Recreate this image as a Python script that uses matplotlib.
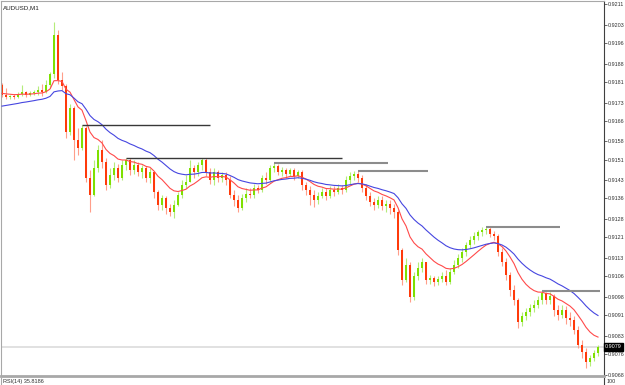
import numpy as np
import matplotlib.pyplot as plt
import matplotlib.transforms as mtransforms

# AUDUSD M1 - precios (150 velas)
first_open = 0.91798
closes = np.array([
    0.91759, 0.91752, 0.91755, 0.91752, 0.91763, 0.91771, 0.91759, 0.91767, 0.91771, 0.91779,
    0.91771, 0.91798, 0.91840, 0.91991, 0.91817, 0.91794, 0.91616, 0.91709, 0.91586, 0.91555,
    0.91632, 0.91439, 0.91373, 0.91478, 0.91547, 0.91500, 0.91412, 0.91450, 0.91478, 0.91439,
    0.91489, 0.91508, 0.91470, 0.91489, 0.91462, 0.91478, 0.91439, 0.91462, 0.91385, 0.91335,
    0.91362, 0.91323, 0.91308, 0.91335, 0.91373, 0.91412, 0.91423, 0.91478, 0.91462, 0.91489,
    0.91508, 0.91462, 0.91431, 0.91462, 0.91439, 0.91450, 0.91431, 0.91373, 0.91354, 0.91323,
    0.91362, 0.91377, 0.91373, 0.91400, 0.91393, 0.91439, 0.91431, 0.91478, 0.91485, 0.91462,
    0.91470, 0.91454, 0.91470, 0.91446, 0.91462, 0.91412, 0.91393, 0.91373, 0.91354, 0.91369,
    0.91385, 0.91369, 0.91393, 0.91385, 0.91400, 0.91393, 0.91431, 0.91446, 0.91454, 0.91439,
    0.91400, 0.91369, 0.91346, 0.91335, 0.91354, 0.91331, 0.91339, 0.91323, 0.91308, 0.91161,
    0.91045, 0.91103, 0.90979, 0.91061, 0.91092, 0.91115, 0.91045, 0.91053, 0.91038, 0.91049,
    0.91061, 0.91038, 0.91076, 0.91103, 0.91130, 0.91153, 0.91180, 0.91200, 0.91215, 0.91230,
    0.91238, 0.91242, 0.91223, 0.91215, 0.91153, 0.91115, 0.91065, 0.91007, 0.90968, 0.90883,
    0.90906, 0.90922, 0.90937, 0.90949, 0.90968, 0.90995, 0.90968, 0.90983, 0.90929, 0.90910,
    0.90929, 0.90899, 0.90891, 0.90852, 0.90794, 0.90767, 0.90728, 0.90744, 0.90763, 0.90787])

highs = np.array([
    0.91806, 0.91786, 0.91759, 0.91763, 0.91771, 0.91798, 0.91775, 0.91775, 0.91779, 0.91794,
    0.91802, 0.91817, 0.91848, 0.92041, 0.92010, 0.91848, 0.91802, 0.91725, 0.91717, 0.91632,
    0.91643, 0.91640, 0.91470, 0.91508, 0.91566, 0.91586, 0.91516, 0.91478, 0.91500, 0.91493,
    0.91508, 0.91516, 0.91516, 0.91508, 0.91500, 0.91489, 0.91485, 0.91478, 0.91462, 0.91393,
    0.91373, 0.91369, 0.91339, 0.91354, 0.91385, 0.91431, 0.91450, 0.91508, 0.91489, 0.91500,
    0.91516, 0.91516, 0.91478, 0.91478, 0.91470, 0.91462, 0.91462, 0.91446, 0.91393, 0.91373,
    0.91377, 0.91400, 0.91400, 0.91416, 0.91412, 0.91450, 0.91462, 0.91489, 0.91497, 0.91493,
    0.91481, 0.91478, 0.91478, 0.91478, 0.91470, 0.91470, 0.91423, 0.91408, 0.91393, 0.91385,
    0.91400, 0.91400, 0.91408, 0.91408, 0.91416, 0.91412, 0.91446, 0.91462, 0.91466, 0.91466,
    0.91450, 0.91416, 0.91385, 0.91362, 0.91369, 0.91369, 0.91354, 0.91354, 0.91339, 0.91315,
    0.91169, 0.91130, 0.91115, 0.91076, 0.91115, 0.91130, 0.91115, 0.91065, 0.91061, 0.91061,
    0.91076, 0.91084, 0.91092, 0.91122, 0.91146, 0.91169, 0.91192, 0.91215, 0.91230, 0.91238,
    0.91249, 0.91249, 0.91249, 0.91234, 0.91223, 0.91169, 0.91130, 0.91076, 0.91026, 0.90975,
    0.90922, 0.90937, 0.90953, 0.90968, 0.90983, 0.91003, 0.91000, 0.90999, 0.90991, 0.90949,
    0.90949, 0.90945, 0.90922, 0.90906, 0.90868, 0.90814, 0.90783, 0.90756, 0.90775, 0.90794])

lows = np.array([
    0.91752, 0.91744, 0.91744, 0.91744, 0.91748, 0.91755, 0.91752, 0.91755, 0.91759, 0.91759,
    0.91755, 0.91767, 0.91786, 0.91825, 0.91802, 0.91779, 0.91593, 0.91605, 0.91508, 0.91528,
    0.91547, 0.91423, 0.91308, 0.91369, 0.91462, 0.91478, 0.91393, 0.91400, 0.91431, 0.91423,
    0.91431, 0.91470, 0.91450, 0.91454, 0.91446, 0.91439, 0.91423, 0.91420, 0.91362, 0.91315,
    0.91315, 0.91300, 0.91292, 0.91285, 0.91331, 0.91362, 0.91400, 0.91423, 0.91439, 0.91446,
    0.91470, 0.91446, 0.91416, 0.91412, 0.91423, 0.91423, 0.91412, 0.91362, 0.91331, 0.91308,
    0.91315, 0.91346, 0.91362, 0.91362, 0.91381, 0.91385, 0.91416, 0.91423, 0.91462, 0.91450,
    0.91446, 0.91439, 0.91446, 0.91431, 0.91439, 0.91393, 0.91373, 0.91335, 0.91327, 0.91339,
    0.91362, 0.91354, 0.91362, 0.91369, 0.91377, 0.91377, 0.91385, 0.91416, 0.91431, 0.91423,
    0.91385, 0.91354, 0.91331, 0.91315, 0.91323, 0.91315, 0.91308, 0.91300, 0.91285, 0.91142,
    0.91026, 0.91038, 0.90960, 0.90968, 0.91045, 0.91076, 0.91030, 0.91030, 0.91022, 0.91026,
    0.91038, 0.91026, 0.91030, 0.91069, 0.91092, 0.91115, 0.91138, 0.91169, 0.91184, 0.91200,
    0.91215, 0.91223, 0.91211, 0.91200, 0.91138, 0.91100, 0.91045, 0.90983, 0.90949, 0.90860,
    0.90868, 0.90891, 0.90906, 0.90922, 0.90937, 0.90953, 0.90953, 0.90953, 0.90906, 0.90891,
    0.90899, 0.90875, 0.90868, 0.90837, 0.90783, 0.90744, 0.90706, 0.90713, 0.90732, 0.90752])

# medias moviles (valor inicial)
fast_period, fast_seed = 12, 0.91767
slow_period, slow_seed = 26, 0.91713

# lineas horizontales (nivel, vela inicial, vela final)
level_prices = [0.91643, 0.91516, 0.91497, 0.91466, 0.91249, 0.91003]
level_start = [20, 31, 68, 89, 121, 135]
level_end = [52, 85, 96.5, 106.5, 139.5, 149.5]
level_colors = ['#383838', '#383838', '#8c8c8c', '#8c8c8c', '#8c8c8c', '#8c8c8c']

tick_labels = ['0.9211', '0.9203', '0.9196', '0.9188', '0.9181', '0.9173', '0.9166',
               '0.9158', '0.9151', '0.9143', '0.9136', '0.9128', '0.9121', '0.9113',
               '0.9106', '0.9098', '0.9091', '0.9083', '0.9076', '0.9068']

symbol = 'AUDUSD,M1'
rsi_text = 'RSI(14) 35.8186'

plt.rcParams['font.family'] = ['Liberation Sans', 'DejaVu Sans']

opens = np.concatenate([[first_open], closes[:-1]])
highs = np.maximum(highs, np.maximum(opens, closes))
lows = np.minimum(lows, np.minimum(opens, closes))
x = np.arange(len(closes))


def ema(values, period, seed):
    k = 2.0 / (period + 1)
    out = []
    prev = seed
    for v in values:
        prev = prev + k * (v - prev)
        out.append(prev)
    return np.array(out)


fast = ema(closes, fast_period, fast_seed)
slow = ema(closes, slow_period, slow_seed)

fig = plt.figure(figsize=(6.25, 3.85), dpi=100)
ax = fig.add_axes([1 / 625, 9 / 385, 602.5 / 625, 375 / 385])
ax.set_xlim(-0.25, 150.375)
ax.set_ylim(0.90675, 0.92122)

up = closes >= opens
body_col = np.where(up, '#7ee000', '#ff3a0a')
wick_col = np.where(up, '#b5ec7a', '#ff9e8a')

# precio actual
ax.axhline(closes[-1], color='#dcdcdc', lw=1.2, zorder=0)

ax.vlines(x, lows, highs, colors=wick_col, lw=0.8, zorder=1)
body_h = np.maximum(np.abs(closes - opens), 0.00002)
ax.bar(x, body_h, bottom=np.minimum(opens, closes), width=0.6,
       color=body_col, lw=0, zorder=2)

ax.plot(x, fast, color='#ff4a4a', lw=0.8, zorder=3)
ax.plot(x, slow, color='#4646e0', lw=0.8, zorder=3)

for lev, s, e, c in zip(level_prices, level_start, level_end, level_colors):
    ax.hlines(lev, s, e, colors=c, lw=1.0 if c == '#383838' else 1.5, zorder=4)

ax.set_xticks([])
ax.yaxis.tick_right()
ax.set_yticks([float(t) for t in tick_labels])
ax.set_yticklabels(tick_labels)
ax.tick_params(axis='y', length=1.8, width=0.5, colors='#303030', labelsize=3.9, pad=0.9)
for side in ['left', 'top']:
    ax.spines[side].set_color('#a8a8a8')
    ax.spines[side].set_linewidth(0.8)
ax.spines['bottom'].set_color('#a8a8a8')
ax.spines['bottom'].set_linewidth(2.0)
ax.spines['right'].set_color('#404040')
ax.spines['right'].set_linewidth(0.8)

ax.text(0.004, 0.988, symbol, transform=ax.transAxes, fontsize=4.5,
        color='#202020', ha='left', va='top')

trans = mtransforms.blended_transform_factory(ax.transAxes, ax.transData)
ax.text(1.002, closes[-1], '%.4f' % closes[-1], transform=trans, fontsize=3.9,
        color='white', ha='left', va='center',
        bbox=dict(facecolor='black', edgecolor='black', pad=0.8))

# panel RSI (solo la parte superior visible)
ax2 = fig.add_axes([1 / 625, 0, 602.5 / 625, 7 / 385])
ax2.set_xticks([])
ax2.set_yticks([])
ax2.spines['top'].set_visible(False)
ax2.spines['bottom'].set_visible(False)
ax2.spines['left'].set_color('#a8a8a8')
ax2.spines['right'].set_color('#404040')
ax2.spines['right'].set_linewidth(0.8)
ax2.text(0.004, 0.45, rsi_text, transform=ax2.transAxes, fontsize=4.0,
         color='#303030', ha='left', va='center')
fig.text(607 / 625, 3.5 / 385, '100', fontsize=3.9, color='#303030', ha='left', va='center')

plt.savefig('out.png', dpi=100)
